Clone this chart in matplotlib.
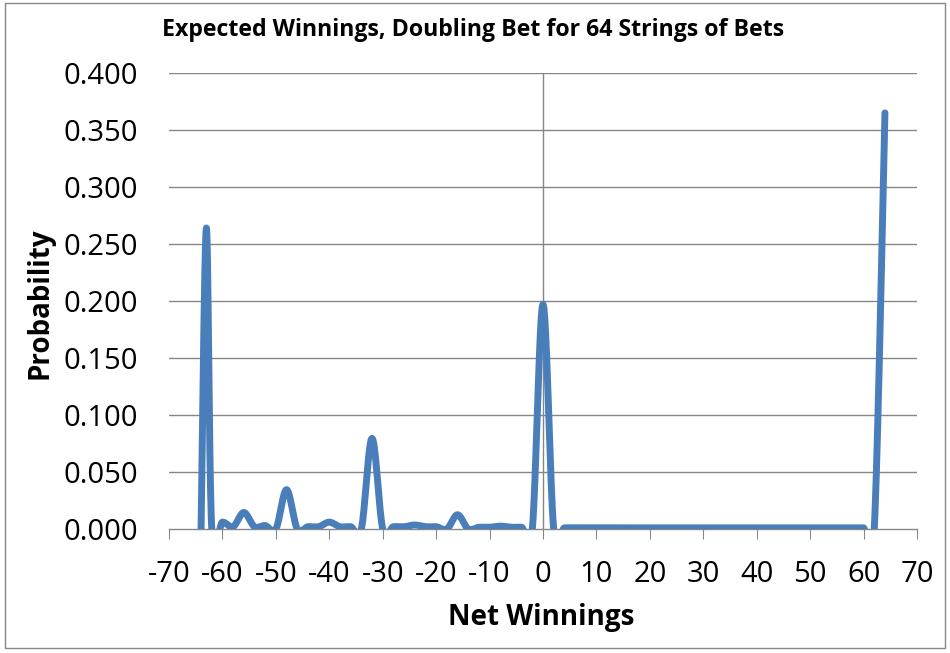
import numpy as np
import matplotlib.pyplot as plt
from matplotlib.patches import Rectangle

# net winnings and their probabilities
net_winnings = [-64, -63, -62, -60, -58, -56, -54, -52, -50, -48, -46, -44, -42,
                -40, -38, -36, -34, -32, -30, -28, -26, -24, -22, -20, -18, -16,
                -14, -12, -10, -8, -6, -4, -2, 0, 2, 4, 6, 8, 10, 12, 14, 16, 18,
                20, 22, 24, 26, 28, 30, 32, 34, 36, 38, 40, 42, 44, 46, 48, 50,
                52, 54, 56, 58, 60, 62, 64]
probability = [0.0, 0.264, 0.0, 0.006, 0.002, 0.0145, 0.002, 0.003, 0.0, 0.0345,
               0.0, 0.002, 0.002, 0.006, 0.002, 0.002, 0.0, 0.0795, 0.0, 0.002,
               0.002, 0.0035, 0.002, 0.002, 0.0, 0.0125, 0.0, 0.0015, 0.0015,
               0.0025, 0.0015, 0.0015, 0.0, 0.197, 0.0, 0.001, 0.001, 0.001,
               0.001, 0.001, 0.001, 0.001, 0.001, 0.001, 0.001, 0.001, 0.001,
               0.001, 0.001, 0.001, 0.001, 0.001, 0.001, 0.001, 0.001, 0.001,
               0.001, 0.001, 0.001, 0.001, 0.001, 0.001, 0.001, 0.001, 0.0, 0.365]

x_ticks = list(range(-70, 71, 10))
y_ticks = [0.0, 0.05, 0.1, 0.15, 0.2, 0.25, 0.3, 0.35, 0.4]

title = "Expected Winnings, Doubling Bet for 64 Strings of Bets"
x_label = "Net Winnings"
y_label = "Probability"


def smooth(xs, ys, n=30):
    # excel-style smoothed line (bezier through the points)
    p = np.column_stack([xs, ys]).astype(float)
    p = np.vstack([p[:1], p, p[-1:]])
    out = []
    for i in range(1, len(p) - 2):
        b0 = p[i]
        b3 = p[i + 1]
        b1 = b0 + (p[i + 1] - p[i - 1]) / 6
        b2 = b3 - (p[i + 2] - p[i]) / 6
        t = np.linspace(0, 1, n)[:, None]
        seg = ((1 - t) ** 3 * b0 + 3 * (1 - t) ** 2 * t * b1
               + 3 * (1 - t) * t ** 2 * b2 + t ** 3 * b3)
        out.append(seg)
    out = np.vstack(out)
    return out[:, 0], out[:, 1]


plt.rcParams['font.family'] = ['Open Sans', 'DejaVu Sans']

fig = plt.figure(figsize=(9.5, 6.53), dpi=100)
ax = fig.add_axes([169 / 950, 1 - 529 / 653, 748 / 950, 456 / 653])

grid_col = '#868686'
for v in y_ticks[1:]:
    ax.axhline(v, color=grid_col, lw=1.0, zorder=1)
ax.axvline(0, color=grid_col, lw=1.0, zorder=1)

sx, sy = smooth(net_winnings, probability)
ax.plot(sx, sy, color='#4A7EBB', lw=5, solid_capstyle='round',
        solid_joinstyle='round', zorder=3)

ax.set_xlim(-70, 70)
ax.set_ylim(0, 0.4)
ax.set_xticks(x_ticks)
ax.set_xticklabels([str(v) for v in x_ticks])
ax.set_yticks(y_ticks)
ax.set_yticklabels(['%.3f' % v for v in y_ticks])

for s in ['left', 'right', 'top']:
    ax.spines[s].set_visible(False)
ax.spines['bottom'].set_color(grid_col)
ax.spines['bottom'].set_linewidth(1.0)
ax.tick_params(axis='x', direction='out', length=7, width=0.75,
               color=grid_col, labelsize=21, pad=15)
ax.tick_params(axis='y', length=0, labelsize=21, pad=22)

fig.text(0.498, 1 - 30 / 653, title, ha='center', va='center',
         fontsize=16.7, fontweight='bold')
fig.text(541 / 950, 1 - 617 / 653, x_label, ha='center', va='center',
         fontsize=20, fontweight='bold')
fig.text(40 / 950, 1 - 303 / 653, y_label, ha='center', va='center',
         fontsize=20, fontweight='bold', rotation=90)

# chart border
fig.patches.append(Rectangle((5 / 950, 1 - 648 / 653), 940 / 950, 645 / 653,
                             transform=fig.transFigure, fill=False,
                             edgecolor=grid_col, lw=1.0))

fig.savefig('out.png', dpi=100)
